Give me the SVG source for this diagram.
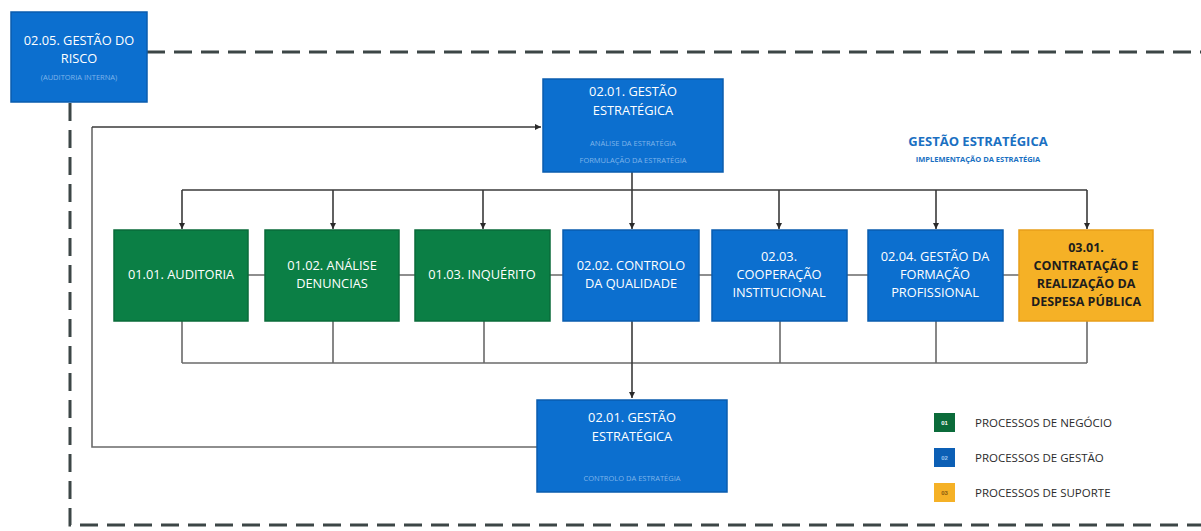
<svg xmlns="http://www.w3.org/2000/svg" width="1201" height="531" viewBox="0 0 1201 531">
  <style>
    .box { stroke-width: 1.5; }
    .green { fill: #0b7f45; stroke: #0a6b3a; }
    .blue { fill: #0c6fcf; stroke: #0a5cae; }
    .orange { fill: #f5b126; stroke: #e89e1a; }
    .t { font-family: "Open Sans", "Liberation Sans", sans-serif; font-size: 12.8px; fill: #ffffff; text-anchor: middle; }
    .tb { font-family: "Open Sans", "Liberation Sans", sans-serif; font-size: 12.5px; font-weight: bold; fill: #1d1d1d; text-anchor: middle; }
    .sub { font-family: "Open Sans", "Liberation Sans", sans-serif; font-size: 7.5px; fill: #7fb4ea; text-anchor: middle; }
    .conn { fill: none; stroke: #3a3a3a; stroke-width: 1.6; }
    .bus { fill: none; stroke: #6a6a6a; stroke-width: 1.6; }
    .dash { fill: none; stroke: #3c4646; stroke-width: 3; stroke-dasharray: 18 9; }
    .head { font-family: "Open Sans", "Liberation Sans", sans-serif; font-weight: bold; fill: #1a70c2; text-anchor: middle; }
    .leg { font-family: "Open Sans", "Liberation Sans", sans-serif; font-size: 11.5px; fill: #2b2b2b; }
    .ico { font-family: "Liberation Sans", sans-serif; font-size: 6px; font-weight: bold; text-anchor: middle; }
  </style>
  <defs>
    <marker id="arrow" viewBox="0 0 10 10" refX="10" refY="5" markerWidth="6" markerHeight="6" orient="auto" markerUnits="userSpaceOnUse">
      <path d="M0,0 L10,5 L0,10 z" fill="#2a2a2a"/>
    </marker>
  </defs>
  <rect width="1201" height="531" fill="#ffffff"/>

  <!-- connectors -->
  <g id="connectors">
    <!-- risk management boundary -->
    <path class="dash" d="M147,52 H1201"/>
    <path class="dash" d="M70,103 V525 H1201"/>
    <!-- feedback loop from strategy control back to strategy formulation -->
    <path class="bus" d="M537,447 H92 V127"/>
    <path class="conn" d="M92,127 H541" marker-end="url(#arrow)"/>
    <!-- distribution from strategy to processes -->
    <path class="conn" d="M632,172 V190"/>
    <path class="conn" d="M182,190 H1087"/>
    <path class="conn" d="M182,190 V229" marker-end="url(#arrow)"/>
    <path class="conn" d="M333,190 V229" marker-end="url(#arrow)"/>
    <path class="conn" d="M483,190 V229" marker-end="url(#arrow)"/>
    <path class="conn" d="M632,190 V229" marker-end="url(#arrow)"/>
    <path class="conn" d="M779,190 V229" marker-end="url(#arrow)"/>
    <path class="conn" d="M936,190 V229" marker-end="url(#arrow)"/>
    <path class="conn" d="M1087,190 V229" marker-end="url(#arrow)"/>
    <!-- links between process boxes -->
    <path class="bus" d="M248,275 H265 M399,275 H415 M550,275 H563 M699,275 H712 M847,275 H868 M1003,275 H1019"/>
    <!-- collection bus into strategy control -->
    <path class="bus" d="M182,321 V363 M333,321 V363 M484,321 V363 M780,321 V363 M936,321 V363 M1087,321 V363"/>
    <path class="bus" d="M182,363 H1087"/>
    <path class="conn" d="M632,321 V398" marker-end="url(#arrow)"/>
  </g>

  <!-- 02.05 risk management -->
  <g id="n-0205">
    <rect class="box blue" x="11" y="12" width="136" height="90"/>
    <text class="t" x="79" y="45">02.05. GESTÃO DO</text>
    <text class="t" x="79" y="63">RISCO</text>
    <text class="sub" x="79" y="80">(AUDITORIA INTERNA)</text>
  </g>

  <!-- 02.01 strategy: analysis and formulation -->
  <g id="n-0201-top">
    <rect class="box blue" x="543" y="79" width="180" height="93"/>
    <text class="t" x="633" y="96">02.01. GESTÃO</text>
    <text class="t" x="633" y="115">ESTRATÉGICA</text>
    <text class="sub" x="633" y="146">ANÁLISE DA ESTRATÉGIA</text>
    <text class="sub" x="633" y="163">FORMULAÇÃO DA ESTRATÉGIA</text>
  </g>

  <!-- implementation label -->
  <g id="label-impl">
    <text class="head" x="978" y="146" font-size="13">GESTÃO ESTRATÉGICA</text>
    <text class="head" x="978" y="162" font-size="7.5">IMPLEMENTAÇÃO DA ESTRATÉGIA</text>
  </g>

  <g id="n-0101">
    <rect class="box green" x="114" y="230" width="134" height="91"/>
    <text class="t" x="181" y="279">01.01. AUDITORIA</text>
  </g>
  <g id="n-0102">
    <rect class="box green" x="265" y="230" width="134" height="91"/>
    <text class="t" x="332" y="270">01.02. ANÁLISE</text>
    <text class="t" x="332" y="288">DENUNCIAS</text>
  </g>
  <g id="n-0103">
    <rect class="box green" x="415" y="230" width="135" height="91"/>
    <text class="t" x="482" y="279">01.03. INQUÉRITO</text>
  </g>
  <g id="n-0202">
    <rect class="box blue" x="563" y="230" width="136" height="91"/>
    <text class="t" x="631" y="270">02.02. CONTROLO</text>
    <text class="t" x="631" y="288">DA QUALIDADE</text>
  </g>
  <g id="n-0203">
    <rect class="box blue" x="712" y="230" width="135" height="91"/>
    <text class="t" x="779" y="261">02.03.</text>
    <text class="t" x="779" y="279">COOPERAÇÃO</text>
    <text class="t" x="779" y="297">INSTITUCIONAL</text>
  </g>
  <g id="n-0204">
    <rect class="box blue" x="868" y="230" width="135" height="91"/>
    <text class="t" x="935" y="261">02.04. GESTÃO DA</text>
    <text class="t" x="935" y="279">FORMAÇÃO</text>
    <text class="t" x="935" y="297">PROFISSIONAL</text>
  </g>
  <g id="n-0301">
    <rect class="box orange" x="1019" y="230" width="134" height="91"/>
    <text class="tb" x="1086" y="252">03.01.</text>
    <text class="tb" x="1086" y="270">CONTRATAÇÃO E</text>
    <text class="tb" x="1086" y="288">REALIZAÇÃO DA</text>
    <text class="tb" x="1086" y="306">DESPESA PÚBLICA</text>
  </g>

  <!-- 02.01 strategy control -->
  <g id="n-0201-bottom">
    <rect class="box blue" x="537" y="400" width="190" height="92"/>
    <text class="t" x="632" y="422">02.01. GESTÃO</text>
    <text class="t" x="632" y="441">ESTRATÉGICA</text>
    <text class="sub" x="632" y="481">CONTROLO DA ESTRATÉGIA</text>
  </g>

  <!-- legend -->
  <g id="legend">
    <rect x="934" y="413" width="21" height="19" fill="#0b6b3a"/>
    <text class="ico" x="944.5" y="425" fill="#ffffff">01</text>
    <text class="leg" x="975" y="427">PROCESSOS DE NEGÓCIO</text>
    <rect x="934" y="448" width="21" height="19" fill="#0c5fb5"/>
    <text class="ico" x="944.5" y="460" fill="#9cc4ee">02</text>
    <text class="leg" x="975" y="462">PROCESSOS DE GESTÃO</text>
    <rect x="934" y="483" width="21" height="19" fill="#f5b126"/>
    <text class="ico" x="944.5" y="495" fill="#8a5a10">03</text>
    <text class="leg" x="975" y="497">PROCESSOS DE SUPORTE</text>
  </g>
</svg>
